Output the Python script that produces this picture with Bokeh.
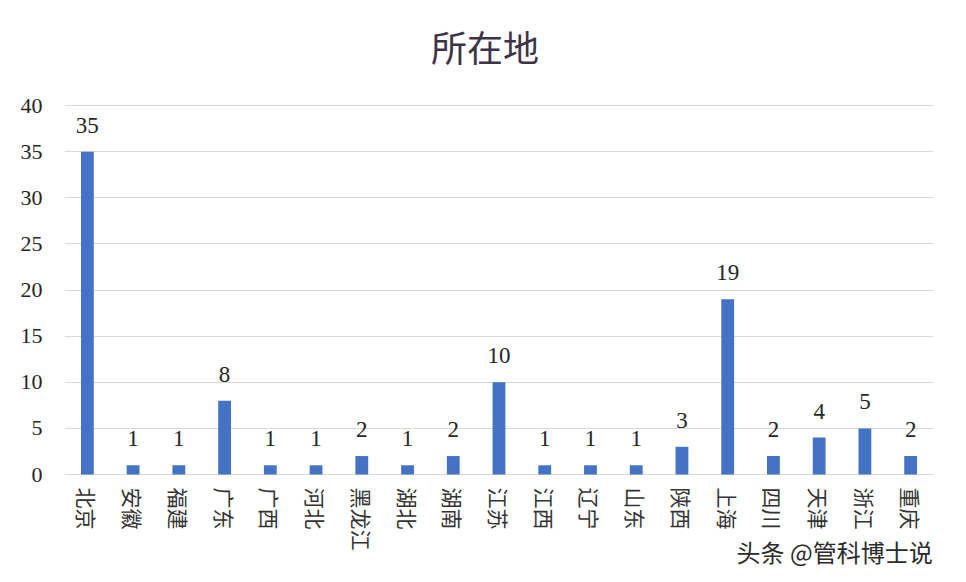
import math
from bokeh.plotting import figure
from bokeh.models import ColumnDataSource, Range1d, FactorRange
from bokeh.core.properties import value
from bokeh.embed import file_html
from bokeh.resources import INLINE

# ---- data ----
provinces = ["北京", "安徽", "福建", "广东", "广西", "河北", "黑龙江", "湖北", "湖南", "江苏",
             "江西", "辽宁", "山东", "陕西", "上海", "四川", "天津", "浙江", "重庆"]
counts = [35, 1, 1, 8, 1, 1, 2, 1, 2, 10, 1, 1, 1, 3, 19, 2, 4, 5, 2]
y_ticks = [0, 5, 10, 15, 20, 25, 30, 35, 40]
title_text = "所在地"
watermark = "头条 @管科博士说"

Y_MAX = 40
PLOT_TOP, PLOT_BOTTOM, HEIGHT = 105, 474, 574
PX_PER_UNIT = (PLOT_BOTTOM - PLOT_TOP) / Y_MAX
# frame spans the whole canvas height, so title, category labels and watermark are drawn as text
y_min = -(HEIGHT - PLOT_BOTTOM) / PX_PER_UNIT
y_max = Y_MAX + PLOT_TOP / PX_PER_UNIT

source = ColumnDataSource(data=dict(
    province=provinces,
    count=counts,
    label=[str(c) for c in counts],
    base=[0] * len(provinces),
))

p = figure(
    width=958, height=HEIGHT,
    x_range=FactorRange(factors=provinces, range_padding=0),
    y_range=Range1d(y_min, y_max),
    output_backend="svg", toolbar_location=None,
    min_border_left=64, min_border_right=25, min_border_top=0, min_border_bottom=0,
)
p.background_fill_color = "white"
p.border_fill_color = "white"
p.outline_line_color = None

# title
p.text(x=[len(provinces) / 2], y=[Y_MAX], text=[title_text],
       text_align="center", text_baseline="middle", x_offset=-14, y_offset=-60,
       text_font=value("Noto Sans CJK SC"), text_font_size="36px", text_color="#3d3347")

p.vbar(x="province", top="count", width=0.28, source=source,
       fill_color="#4472C4", line_color=None)

# value labels
p.text(x="province", y="count", text="label", source=source,
       text_align="center", text_baseline="bottom", y_offset=-19,
       text_font=value("Liberation Serif"), text_font_size="23px", text_color="#262626")

# category labels (rotated, reading top to bottom)
p.text(x="province", y="base", text="province", source=source,
       angle=-math.pi / 2, text_align="left", text_baseline="middle", y_offset=13,
       text_font=value("Noto Sans CJK SC"), text_font_size="21px", text_color="#333333")

# watermark
p.text(x=[provinces[-1]], y=[0], text=[watermark],
       text_align="right", text_baseline="middle", x_offset=22, y_offset=77,
       text_font=value("Noto Sans CJK SC"), text_font_size="24px", text_color="#2b2b2b")

# axes
p.yaxis.ticker = y_ticks
p.yaxis.axis_line_color = None
p.yaxis.major_tick_line_color = None
p.yaxis.minor_tick_line_color = None
p.yaxis.major_label_standoff = 16
p.yaxis.major_label_text_font = "Liberation Serif"
p.yaxis.major_label_text_font_size = "22px"
p.yaxis.major_label_text_color = "#262626"

p.xaxis.visible = False

p.xgrid.grid_line_color = None
p.ygrid.grid_line_color = "#d9d9d9"
p.ygrid.grid_line_width = 1

open("out.html", "w").write(file_html(p, INLINE))
